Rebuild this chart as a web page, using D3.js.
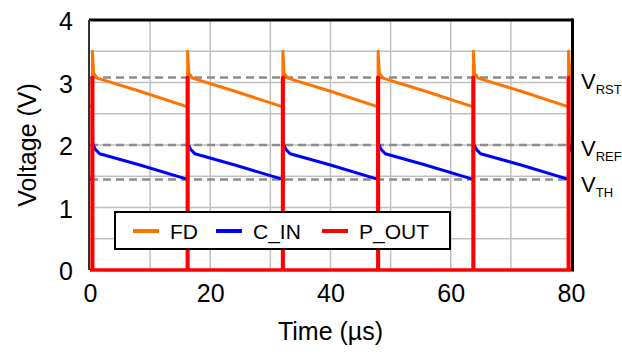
<!DOCTYPE html>
<html>
<head>
<meta charset="utf-8">
<script src="https://cdn.jsdelivr.net/npm/d3@7"></script>
<style>
body { margin: 0; background: #fff; }
svg { display: block; font-family: "Liberation Sans", Arial, sans-serif; }
</style>
</head>
<body>
<div id="chart"></div>
<script>
// DATA
const xTicks = [0, 20, 40, 60, 80];
const yTicks = [0, 1, 2, 3, 4];
const xGrid = [10, 20, 30, 40, 50, 60, 70];
const yGrid = [0.5, 1, 1.5, 2, 2.5, 3, 3.5];

const refNames = ['RST', 'REF', 'TH'];
const refLevels = [3.08, 2.0, 1.45];

const fdTime = [0, 0.4, 0.4, 0.6, 1.2, 8.3, 16.24, 16.24, 16.44, 17.04, 24.1, 32.08, 32.08, 32.28, 32.88, 40.0,
	47.92, 47.92, 48.12, 48.72, 55.8, 63.76, 63.76, 63.96, 64.56, 71.7, 79.6, 79.6, 79.8, 80];
const fdVolt = [2.62, 2.61, 3.5, 3.15, 3.07, 2.86, 2.61, 3.5, 3.15, 3.07, 2.86, 2.61, 3.5, 3.15, 3.07, 2.86,
	2.61, 3.5, 3.15, 3.07, 2.86, 2.61, 3.5, 3.15, 3.07, 2.86, 2.61, 3.5, 3.15, 3.1];

const cinTime = [0, 0.4, 0.4, 0.45, 0.9, 1.6, 8.3, 16.24, 16.24, 16.29, 16.74, 17.44, 24.1, 32.08, 32.08, 32.13, 32.58, 33.28, 40.0,
	47.92, 47.92, 47.97, 48.42, 49.12, 55.8, 63.76, 63.76, 63.81, 64.26, 64.96, 71.7, 79.6, 79.6, 79.65, 80];
const cinVolt = [1.46, 1.45, 2.45, 2.02, 1.93, 1.86, 1.68, 1.45, 2.45, 2.02, 1.93, 1.86, 1.68, 1.45, 2.45, 2.02, 1.93, 1.86, 1.68,
	1.45, 2.45, 2.02, 1.93, 1.86, 1.68, 1.45, 2.45, 2.02, 1.93, 1.86, 1.68, 1.45, 2.45, 2.02, 1.9];

const poutTime = [0, 0.35, 0.35, 0.45, 0.45, 16.19, 16.19, 16.29, 16.29, 32.03, 32.03, 32.13, 32.13,
	47.87, 47.87, 47.97, 47.97, 63.71, 63.71, 63.81, 63.81, 79.55, 79.55, 79.65, 79.65, 80];
const poutVolt = [0, 0, 3.08, 3.08, 0, 0, 3.08, 3.08, 0, 0, 3.08, 3.08, 0,
	0, 3.08, 3.08, 0, 0, 3.08, 3.08, 0, 0, 3.08, 3.08, 0, 0];

const seriesNames = ['FD', 'C_IN', 'P_OUT'];
const seriesColours = ['#ff7300', '#0000ff', '#ff0000'];

// SETUP
const width = 622, height = 354;
const margin = { top: 20, right: 51, bottom: 84, left: 90 };

const svg = d3.select('#chart').append('svg')
	.attr('width', width)
	.attr('height', height);

const xScale = d3.scaleLinear().domain([0, 80]).range([margin.left, width - margin.right]);
const yScale = d3.scaleLinear().domain([0, 4]).range([height - margin.bottom, margin.top]);

svg.append('clipPath').attr('id', 'plot')
	.append('rect')
	.attr('x', xScale(0)).attr('y', yScale(4) - 2)
	.attr('width', xScale(80) - xScale(0) + 2)
	.attr('height', yScale(0) - yScale(4) + 4);

// gridlines
svg.append('g')
	.selectAll('line')
	.data(xGrid)
	.join('line')
	.attr('x1', d => xScale(d)).attr('x2', d => xScale(d))
	.attr('y1', yScale(0)).attr('y2', yScale(4))
	.attr('stroke', '#c0c0c0').attr('stroke-width', 1.5);

svg.append('g')
	.selectAll('line')
	.data(yGrid)
	.join('line')
	.attr('x1', xScale(0)).attr('x2', xScale(80))
	.attr('y1', d => yScale(d)).attr('y2', d => yScale(d))
	.attr('stroke', '#c0c0c0').attr('stroke-width', 1.5);

// reference levels
svg.append('g')
	.selectAll('line')
	.data(refLevels)
	.join('line')
	.attr('x1', xScale(0)).attr('x2', xScale(80))
	.attr('y1', d => yScale(d)).attr('y2', d => yScale(d))
	.attr('stroke', '#8c8c8c').attr('stroke-width', 2.5)
	.attr('stroke-dasharray', '8,5');

// series
const line = d3.line().x(d => xScale(d[0])).y(d => yScale(d[1]));
const series = [
	d3.zip(fdTime, fdVolt),
	d3.zip(cinTime, cinVolt),
	d3.zip(poutTime, poutVolt)
];
series.forEach((s, i) => {
	svg.append('path')
		.datum(s)
		.attr('clip-path', 'url(#plot)')
		.attr('fill', 'none')
		.attr('stroke', seriesColours[i])
		.attr('stroke-width', i === 2 ? 3.5 : 3)
		.attr('stroke-linejoin', 'round')
		.attr('d', line);
});

// frame
const frame = svg.append('g').attr('fill', 'none').attr('stroke', '#000');
frame.append('line')
	.attr('x1', xScale(0) - 1).attr('x2', xScale(80) + 2)
	.attr('y1', yScale(4)).attr('y2', yScale(4))
	.attr('stroke-width', 3);
frame.append('line')
	.attr('x1', xScale(0) - 1).attr('x2', xScale(0) - 1)
	.attr('y1', yScale(4)).attr('y2', yScale(0))
	.attr('stroke', '#333').attr('stroke-width', 2);
frame.append('line')
	.attr('x1', xScale(80) + 1.5).attr('x2', xScale(80) + 1.5)
	.attr('y1', yScale(4) - 1.5).attr('y2', yScale(0) + 1.5)
	.attr('stroke-width', 3);

// axes
svg.append('g')
	.attr('transform', `translate(${margin.left - 17},0)`)
	.call(d3.axisLeft(yScale).tickValues(yTicks).tickFormat(d3.format('d')).tickSize(0).tickPadding(0))
	.call(g => g.select('.domain').remove())
	.call(g => g.selectAll('text')
		.attr('font-size', 25).attr('font-family', '"Liberation Sans", Arial, sans-serif')
		.attr('fill', '#000').attr('dy', '0.38em'));

svg.append('g')
	.attr('transform', `translate(0,${yScale(0) + 14})`)
	.call(d3.axisBottom(xScale).tickValues(xTicks).tickSize(0).tickPadding(0))
	.call(g => g.select('.domain').remove())
	.call(g => g.selectAll('text')
		.attr('font-size', 25).attr('font-family', '"Liberation Sans", Arial, sans-serif')
		.attr('fill', '#000').attr('dy', '0.72em'));

// axis titles
svg.append('text')
	.attr('x', (xScale(0) + xScale(80)) / 2)
	.attr('y', 340)
	.attr('text-anchor', 'middle')
	.attr('font-size', 25)
	.text('Time (µs)');

svg.append('text')
	.attr('transform', `translate(36,${(yScale(0) + yScale(4)) / 2}) rotate(-90)`)
	.attr('text-anchor', 'middle')
	.attr('font-size', 25)
	.text('Voltage (V)');

// reference labels
const refLabels = svg.append('g')
	.selectAll('text')
	.data(refLevels)
	.join('text')
	.attr('x', xScale(80) + 10)
	.attr('y', (d, i) => yScale(d) + (i === 2 ? 13 : 11))
	.attr('font-size', 22);
refLabels.append('tspan').text('V');
refLabels.append('tspan')
	.attr('font-size', 13)
	.attr('dy', 5)
	.text((d, i) => refNames[i]);

// legend
const legend = svg.append('g').attr('transform', 'translate(115,212)');
legend.append('rect')
	.attr('width', 335).attr('height', 37)
	.attr('fill', '#fff').attr('stroke', '#000').attr('stroke-width', 2);
const legendX = [18, 101, 207];
seriesNames.forEach((name, i) => {
	legend.append('line')
		.attr('x1', legendX[i]).attr('x2', legendX[i] + 26)
		.attr('y1', 19).attr('y2', 19)
		.attr('stroke', seriesColours[i]).attr('stroke-width', 4);
	legend.append('text')
		.attr('x', legendX[i] + 37).attr('y', 26.5)
		.attr('font-size', 21)
		.text(name);
});
</script>
</body>
</html>
